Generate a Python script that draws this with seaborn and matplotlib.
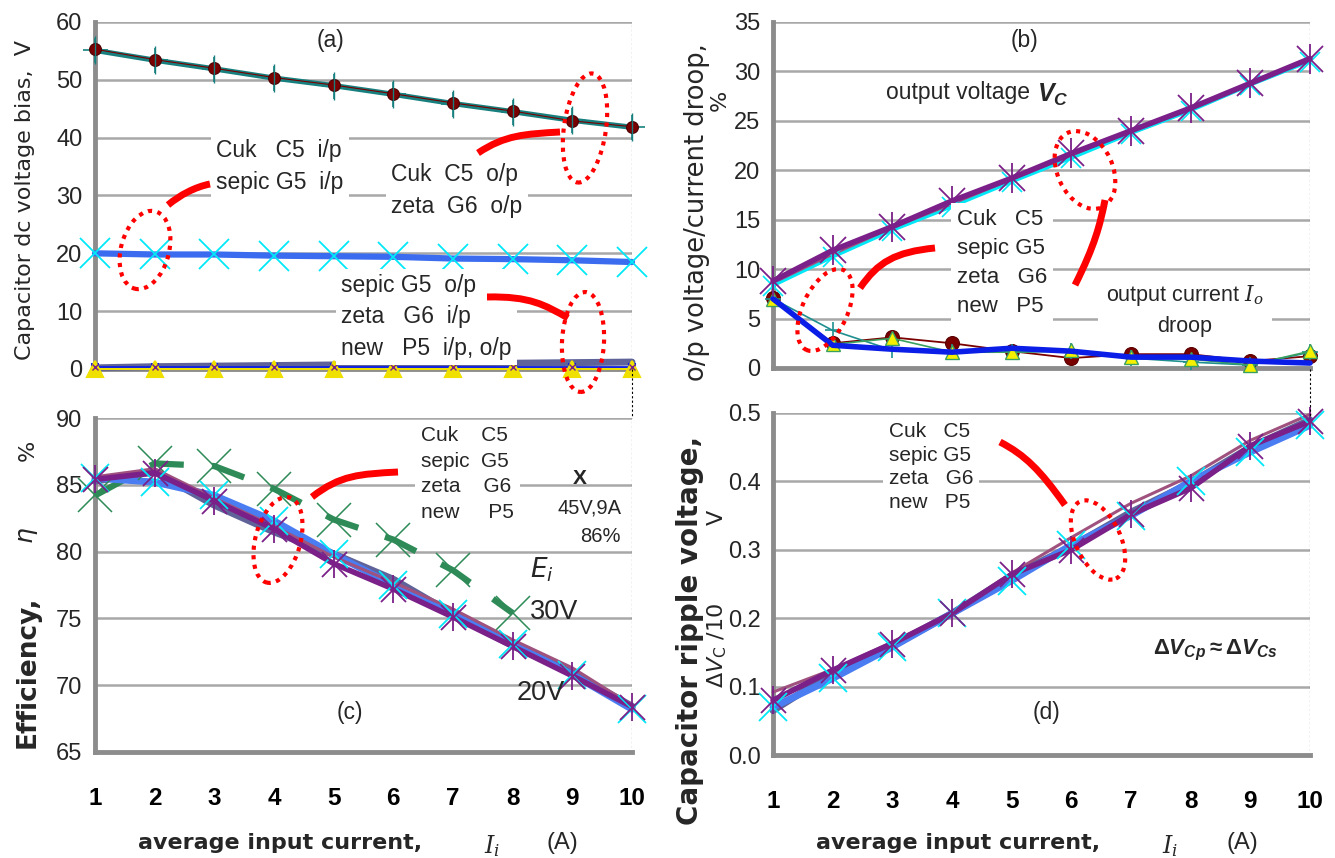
import matplotlib
matplotlib.use("Agg")
import matplotlib.pyplot as plt
import seaborn as sns
from matplotlib.patches import Ellipse, PathPatch
from matplotlib.path import Path

# ---------------- data ----------------
current = [1, 2, 3, 4, 5, 6, 7, 8, 9, 10]
current_30v = [1, 2, 3, 4, 5, 6, 7, 8]

# (a) capacitor dc voltage bias (V)
a_cuk_op = [55.3, 53.5, 52.0, 50.4, 49.1, 47.6, 46.0, 44.6, 42.9, 41.9]
a_zeta_op = [55.1, 53.4, 51.9, 50.3, 49.0, 47.5, 45.9, 44.5, 43.0, 41.8]
a_cuk_ip = [20.0, 19.8, 19.8, 19.6, 19.5, 19.4, 19.1, 19.0, 18.8, 18.5]
a_sepic_ip = [20.0, 19.8, 19.8, 19.6, 19.5, 19.4, 19.1, 19.1, 18.8, 18.5]
a_sepic_op = [0.2, 0.4, 0.5, 0.6, 0.7, 0.8, 0.9, 1.0, 1.1, 1.2]
a_zeta_ip = [0.3, 0.3, 0.3, 0.3, 0.3, 0.3, 0.3, 0.3, 0.3, 0.3]
a_new = [0.0, 0.0, 0.0, 0.0, 0.0, 0.0, 0.0, 0.0, 0.0, 0.0]

# (b) output voltage / current droop (%)
b_vc_cuk = [8.8, 11.9, 14.3, 16.9, 19.2, 21.7, 24.0, 26.3, 28.8, 31.3]
b_vc_sepic = [8.3, 11.2, 13.9, 16.3, 18.8, 21.2, 23.7, 26.0, 28.6, 31.0]
b_vc_zeta = [8.5, 11.5, 14.0, 16.6, 19.0, 21.4, 23.8, 26.1, 28.7, 31.1]
b_vc_new = [8.4, 11.4, 14.1, 16.5, 18.9, 21.3, 23.9, 26.2, 28.7, 31.2]
b_io_cuk = [7.1, 2.5, 3.1, 2.5, 1.7, 1.0, 1.4, 1.4, 0.7, 1.2]
b_io_sepic = [7.0, 3.8, 1.8, 1.6, 1.6, 1.7, 1.0, 0.6, 0.3, 1.6]
b_io_zeta = [7.0, 2.4, 3.0, 1.6, 1.6, 1.8, 1.1, 0.9, 0.3, 1.7]
b_io_new = [7.0, 2.3, 1.9, 1.6, 2.0, 1.7, 1.1, 1.1, 0.7, 0.5]

# (c) efficiency (%)
c_ei30 = [84.2, 86.6, 86.4, 84.7, 82.4, 80.9, 78.6, 75.4]
c_cuk = [85.4, 85.9, 83.8, 81.7, 79.1, 77.2, 75.1, 72.9, 70.7, 68.4]
c_sepic = [85.5, 85.2, 84.2, 82.3, 79.8, 77.5, 75.3, 73.1, 70.8, 68.2]
c_zeta = [85.6, 86.2, 84.0, 81.9, 79.6, 77.7, 75.7, 73.4, 71.3, 68.5]
c_new = [85.3, 86.0, 83.5, 81.5, 79.8, 77.9, 75.3, 73.0, 70.9, 68.4]

# (d) capacitor ripple voltage /10 (V)
d_cuk = [0.080, 0.124, 0.163, 0.207, 0.264, 0.300, 0.352, 0.390, 0.452, 0.488]
d_sepic = [0.070, 0.112, 0.158, 0.207, 0.255, 0.307, 0.350, 0.400, 0.443, 0.482]
d_zeta = [0.092, 0.125, 0.165, 0.207, 0.266, 0.318, 0.368, 0.408, 0.460, 0.498]
d_new = [0.065, 0.120, 0.160, 0.207, 0.262, 0.305, 0.355, 0.398, 0.450, 0.490]

x_ticks = [1, 2, 3, 4, 5, 6, 7, 8, 9, 10]
a_yticks = [0, 10, 20, 30, 40, 50, 60]
b_yticks = [0, 5, 10, 15, 20, 25, 30, 35]
c_yticks = [65, 70, 75, 80, 85, 90]
d_yticks = [0.0, 0.1, 0.2, 0.3, 0.4, 0.5]

# ---------------- style ----------------
sns.set_style("white")
NARROW = ["Liberation Sans", "DejaVu Sans"]
plt.rcParams["font.family"] = ["DejaVu Sans"]
plt.rcParams["mathtext.fontset"] = "custom"
plt.rcParams["mathtext.it"] = "Liberation Sans:bold:italic"
plt.rcParams["mathtext.rm"] = "Liberation Sans:bold"
plt.rcParams["mathtext.bf"] = "Liberation Sans:bold"

W, H = 1335, 858
fig = plt.figure(figsize=(W / 100, H / 100), dpi=100)


def rect(l, r, t, b):
    return [l / W, 1 - b / H, (r - l) / W, (b - t) / H]


def IN(x, y):
    return (x / 100.0, (H - y) / 100.0)


axA = fig.add_axes(rect(95, 632, 22, 369))
axB = fig.add_axes(rect(773, 1310, 22, 368))
axC = fig.add_axes(rect(95, 632, 418, 752))
axD = fig.add_axes(rect(773, 1310, 413, 755))

SPINE = "#8c8c8c"
GRID = "#a8a8a8"


def style_axes(ax, yticks, ylim, fmt, show_x):
    ax.set_xlim(1, 10)
    ax.set_ylim(*ylim)
    ax.set_xticks(x_ticks)
    ax.set_yticks(yticks)
    ax.set_yticklabels([fmt.format(v) for v in yticks], family=NARROW, fontsize=17)
    if show_x:
        ax.set_xticklabels([str(v) for v in x_ticks], family=NARROW, fontsize=17.5, fontweight="bold")
    else:
        ax.set_xticklabels([])
    for s in ["top", "right"]:
        ax.spines[s].set_visible(False)
    for s in ["left", "bottom"]:
        ax.spines[s].set_color(SPINE)
        ax.spines[s].set_linewidth(3.5)
    ax.yaxis.grid(True, color=GRID, lw=1.8, zorder=0)
    ax.xaxis.grid(False)
    ax.set_axisbelow(True)
    ax.tick_params(axis="x", which="major", direction="out", length=9, width=3, color=SPINE,
                   pad=16 if show_x else 2, labelcolor="black")
    ax.tick_params(axis="y", which="major", direction="out", length=6, width=3, color=SPINE, pad=3)
    ax.axvline(10, color="black", ls=(0, (2, 2)), lw=0.8, zorder=1)
    ax.set_xlabel("")
    ax.set_ylabel("")


def line(ax, x, y, color, lw=2, marker=None, ms=0, mfc=None, mec=None, mew=1.5, ls="-", z=4):
    sns.lineplot(x=x, y=y, ax=ax, color=color, linewidth=lw, marker=marker,
                 markersize=ms, markerfacecolor=mfc if mfc else color,
                 markeredgecolor=mec if mec else color, markeredgewidth=mew,
                 linestyle=ls, clip_on=False, zorder=z, legend=False)


def star(ax, x, y, color, ms=16, z=6):
    line(ax, x, y, color, lw=0, marker="x", ms=ms, mew=1.3, ls="none", z=z)
    line(ax, x, y, color, lw=0, marker="|", ms=ms * 1.1, mew=1.3, ls="none", z=z)


TEAL = "#17807f"
DARKRED = "#7a0000"
BLUE_A = "#3b6cf0"
CYAN = "#00e8f8"
SLATE = "#5f6399"
PURPLE = "#7a2088"
MAUVE = "#a0527f"
PUREBLUE = "#0a1ee8"
SEAGREEN = "#2e8b57"

# ---- (a)
style_axes(axA, a_yticks, (0, 60), "{:g}", False)
line(axA, current, a_zeta_op, TEAL, lw=3.8, marker="+", ms=18, mew=1.2, z=4)
line(axA, current, a_cuk_op, DARKRED, lw=0.8, marker="o", ms=8.5, mec="#4a0000", mew=0.8, z=5)
line(axA, current, a_zeta_op, TEAL, lw=0, marker="|", ms=20, mew=1.0, ls="none", z=6)
line(axA, current, a_cuk_ip, BLUE_A, lw=4.5, z=4)
line(axA, current, a_sepic_ip, CYAN, lw=0, marker="x", ms=22, mew=1.3, ls="none", z=5)
line(axA, current, a_sepic_op, SLATE, lw=5, z=4)
line(axA, current, a_zeta_ip, PUREBLUE, lw=2, marker="s", ms=4, z=5)
line(axA, current, a_new, "#f0e000", lw=1.5, marker="^", ms=11, mec="#f0e000", z=6)
line(axA, current, a_zeta_ip, PURPLE, lw=0.8, marker="x", ms=5, mew=1, ls="none", z=7)

# ---- (b)
style_axes(axB, b_yticks, (0, 35), "{:g}", False)
line(axB, current, b_vc_new, TEAL, lw=1.5, z=4)
line(axB, current, b_vc_zeta, MAUVE, lw=2.5, z=4)
line(axB, current, b_vc_sepic, CYAN, lw=2, marker="x", ms=14, mew=1.2, z=5)
line(axB, current, b_vc_cuk, PURPLE, lw=4, z=5)
star(axB, current, b_vc_cuk, PURPLE, ms=19)
line(axB, current, b_io_cuk, DARKRED, lw=1.3, marker="o", ms=10, mec="#5a0000", mew=0.8, z=4)
line(axB, current, b_io_sepic, "#1f8f8f", lw=1.2, marker="+", ms=12, mew=1.2, z=4)
line(axB, current, b_io_zeta, "#3aa060", lw=1.2, marker="^", ms=10, mfc="#f5f000", mec="#3aa060", mew=1, z=5)
line(axB, current, b_io_new, PUREBLUE, lw=4, z=6)

# ---- (c)
style_axes(axC, c_yticks, (65, 90), "{:g}", True)
line(axC, current_30v, c_ei30, SEAGREEN, lw=4.5, ls=(0, (5.5, 4.5)), z=4)
line(axC, current_30v, c_ei30, SEAGREEN, lw=0, marker="x", ms=24, mew=1.1, ls="none", z=5)
line(axC, current, c_new, SLATE, lw=5.5, z=4)
line(axC, current, c_sepic, "#4a7cf2", lw=5, z=4)
line(axC, current, c_zeta, MAUVE, lw=2.2, z=5)
line(axC, current, c_cuk, PURPLE, lw=4, z=5)
line(axC, current, c_sepic, CYAN, lw=0, marker="x", ms=20, mew=1.3, ls="none", z=6)
star(axC, current, c_cuk, PURPLE, ms=18, z=7)

# ---- (d)
style_axes(axD, d_yticks, (0, 0.5), "{:.1f}", True)
line(axD, current, d_new, SLATE, lw=5, z=4)
line(axD, current, d_sepic, "#4a7cf2", lw=5, z=4)
line(axD, current, d_zeta, MAUVE, lw=2.2, z=5)
line(axD, current, d_cuk, PURPLE, lw=4, z=5)
line(axD, current, d_sepic, CYAN, lw=0, marker="x", ms=20, mew=1.3, ls="none", z=6)
star(axD, current, d_cuk, PURPLE, ms=18, z=7)

# dotted vertical lines through the gap between rows
for xp in (632, 1310):
    fig.add_artist(plt.Line2D([xp / W, xp / W], [1 - 369 / H, 1 - 418 / H], color="black",
                              ls=(0, (2, 2)), lw=0.8))

# ---------------- annotation texts ----------------
BOX = dict(facecolor="white", edgecolor="none", pad=4)


def ftext(x, y, s, **kw):
    kw.setdefault("ha", "left")
    kw.setdefault("va", "center")
    return fig.text(x / W, 1 - y / H, s, **kw)


tk = dict(family=NARROW, fontsize=16.5)
ftext(330, 40, "(a)", ha="center", **tk)
ftext(216, 167, "Cuk   C5  i/p\nsepic G5  i/p", linespacing=1.5, bbox=BOX, **tk)
ftext(391, 190, "Cuk  C5  o/p\nzeta  G6  o/p", linespacing=1.5, bbox=BOX, **tk)
ftext(341, 317, "sepic G5  o/p\nzeta   G6  i/p\nnew   P5  i/p, o/p", linespacing=1.45, bbox=BOX, **tk)

ftext(1025, 40, "(b)", ha="center", **tk)
ftext(1030, 93, "output voltage", ha="right", fontsize=16.5, family=NARROW)
ftext(1037, 95, "$V_C$", ha="left", fontsize=18, math_fontfamily="custom")
ftext(957, 263, "Cuk   C5\nsepic G5\nzeta   G6\nnew   P5", linespacing=1.5, bbox=BOX,
      family=NARROW, fontsize=16)
ftext(1185, 310, "output current $I_o$\ndroop", ha="center", linespacing=1.45,
      bbox=dict(facecolor="white", edgecolor="none", pad=6), math_fontfamily="dejavuserif",
      family=NARROW, fontsize=15.5)

ftext(421, 474, "Cuk    C5\nsepic  G5\nzeta    G6\nnew     P5", linespacing=1.45, bbox=BOX,
      family=NARROW, fontsize=15)
ftext(580, 478, "X", ha="center", family=NARROW, fontsize=15, fontweight="bold")
ftext(621, 508, "45V,9A", ha="right", family=NARROW, fontsize=14.5)
ftext(621, 536, "86%", ha="right", family=NARROW, fontsize=14.5)
ftext(530, 570, "$E_i$", family=NARROW, fontsize=19, math_fontfamily="dejavusans")
ftext(530, 612, "30V", family=NARROW, fontsize=19.5)
ftext(517, 693, "20V", family=NARROW, fontsize=19.5)
ftext(350, 713, "(c)", ha="center", **tk)

ftext(889, 467, "Cuk   C5\nsepic G5\nzeta   G6\nnew   P5", linespacing=1.3, bbox=BOX,
      family=NARROW, fontsize=15)
ftext(1215, 650, r"$\Delta V_{Cp}{\approx}\Delta V_{Cs}$", ha="center", fontsize=16,
      math_fontfamily="custom")
ftext(1047, 713, "(d)", ha="center", **tk)

# axis titles
ftext(25, 200, "Capacitor dc voltage bias,  V", rotation=90, ha="center", fontsize=16)
ftext(697, 212, "o/p voltage/current droop,", rotation=90, ha="center", fontsize=18.5)
ftext(720, 100, "%", rotation=90, ha="center", fontsize=16)
ftext(28, 450, "%", rotation=90, ha="center", fontsize=16)
ftext(28, 535, r"$\eta$", rotation=90, ha="center", fontsize=18, math_fontfamily="dejavusans")
ftext(28, 672, "Efficiency,", rotation=90, ha="center", fontsize=19, fontweight="bold")
ftext(690, 630, "Capacitor ripple voltage,", rotation=90, ha="center", fontsize=20, fontweight="bold")
ftext(717, 517, "V", rotation=90, ha="center", fontsize=16)
ftext(717, 645, r"$\Delta V_{\mathrm{C}}$ /10", rotation=90, ha="center", fontsize=16,
      math_fontfamily="dejavusans")

for x0, xi, xa in ((280, 492, 562), (958, 1170, 1242)):
    ftext(x0, 843, "average input current,", ha="center", fontsize=16, fontweight="bold")
    ftext(xi, 846, "$I_i$", ha="center", fontsize=17, math_fontfamily="dejavuserif")
    ftext(xa, 843, "(A)", ha="center", family=NARROW, fontsize=17)

# ---------------- red callouts ----------------
RED = "#ff0000"


def curve(pts, lw=5):
    verts = [IN(*p) for p in pts]
    codes = [Path.MOVETO] + [Path.CURVE4] * (len(verts) - 1)
    fig.add_artist(PathPatch(Path(verts, codes), fill=False, edgecolor=RED, lw=lw,
                             capstyle="butt", transform=fig.dpi_scale_trans, zorder=10))


def ring(cx, cy, w, h, ang):
    e = Ellipse(IN(cx, cy), w / 100.0, h / 100.0, angle=ang, fill=False, edgecolor=RED,
                lw=3, ls=(0, (1, 1.3)), transform=fig.dpi_scale_trans, zorder=10)
    fig.add_artist(e)


# (a)
curve([(168, 205), (180, 195), (195, 187), (210, 184)])
ring(145, 250, 48, 80, -15)
curve([(478, 153), (505, 135), (525, 134), (560, 132)])
ring(585, 128, 42, 110, -8)
curve([(487, 297), (530, 296), (545, 305), (568, 318)])
ring(583, 342, 42, 100, -3)
# (b)
curve([(860, 288), (878, 262), (895, 252), (935, 248)])
ring(825, 310, 45, 88, -25)
curve([(1075, 285), (1095, 245), (1100, 225), (1105, 200)])
ring(1085, 170, 55, 82, 25)
# (c)
curve([(312, 497), (340, 475), (360, 474), (398, 472)])
ring(278, 540, 45, 88, -15)
# (d)
curve([(1000, 442), (1025, 455), (1040, 470), (1065, 505)])
ring(1098, 540, 45, 85, 25)

fig.savefig("out.png", dpi=100)
